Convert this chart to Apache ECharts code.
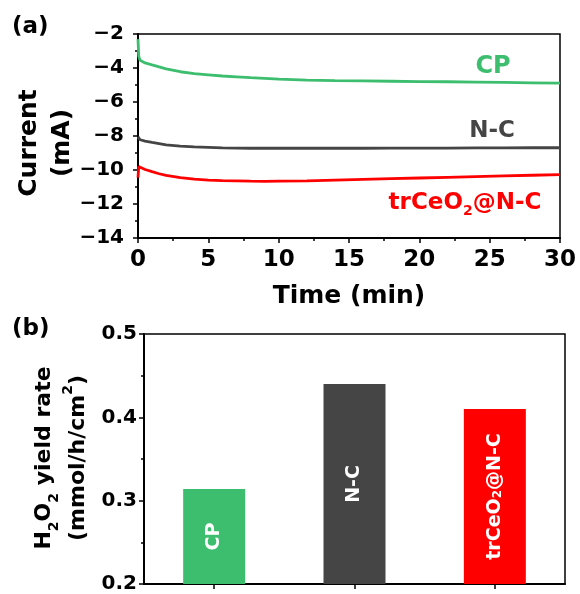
<!DOCTYPE html>
<html>
<head>
<meta charset="utf-8">
<script src="https://cdn.jsdelivr.net/npm/echarts@6/dist/echarts.min.js"></script>
<style>
html,body{margin:0;padding:0;background:#fff;}
#chart{width:580px;height:594px;}
</style>
</head>
<body>
<div id="chart"></div>
<script>
// ---- Data ----
const time = [0, 0.05, 0.15, 0.5, 1, 1.5, 2, 3, 4, 5, 6, 7, 8, 9, 10, 12, 14, 16, 18, 20, 22, 24, 26, 28, 30];
const cpCurrent = [-2.3, -3.3, -3.55, -3.7, -3.82, -3.93, -4.05, -4.22, -4.33, -4.4, -4.47, -4.52, -4.57, -4.61, -4.65, -4.71, -4.74, -4.76, -4.78, -4.8, -4.81, -4.83, -4.85, -4.87, -4.89];
const ncCurrent = [-8.05, -8.15, -8.22, -8.3, -8.38, -8.45, -8.52, -8.6, -8.64, -8.67, -8.7, -8.71, -8.72, -8.72, -8.72, -8.72, -8.72, -8.72, -8.71, -8.71, -8.71, -8.7, -8.7, -8.69, -8.69];
const ceCurrent = [-10.45, -9.8, -9.85, -9.97, -10.1, -10.22, -10.32, -10.45, -10.54, -10.59, -10.62, -10.64, -10.66, -10.67, -10.66, -10.64, -10.59, -10.55, -10.51, -10.47, -10.43, -10.39, -10.35, -10.31, -10.27];
const samples = ['CP', 'N-C', 'trCeO2@N-C'];
const yieldRate = [0.314, 0.44, 0.41];
const timeTicks = [0, 5, 10, 15, 20, 25, 30];
const currentTicks = [-14, -12, -10, -8, -6, -4, -2];
const yieldTicks = [0.2, 0.3, 0.4, 0.5];

const GREEN = '#3cbe6e', GRAY = '#454545', RED = '#ff0000';
const FONT = 'DejaVu Sans';

const pairs = (xs, ys) => xs.map((x, i) => [x, ys[i]]);
const richSub = s => s.replace(/O2/g, 'O{s|2}');

const chart = echarts.init(document.getElementById('chart'), null, {renderer: 'canvas'});

const axisCommon = {
  axisLine: {show: true, onZero: false, lineStyle: {color: '#000', width: 2}},
  axisTick: {show: true, inside: false, length: 5, lineStyle: {color: '#000', width: 1.5}},
  minorTick: {show: true, splitNumber: 2, length: 3, lineStyle: {color: '#000', width: 1.5}},
  splitLine: {show: false}
};

const option = {
  animation: false,
  backgroundColor: '#fff',
  grid: [
    {left: 138, top: 34, width: 422, height: 204, show: true, borderColor: '#000', borderWidth: 1.5, containLabel: false},
    {left: 144, top: 334, width: 421, height: 250, show: true, borderColor: '#000', borderWidth: 1.5, containLabel: false}
  ],
  xAxis: [
    Object.assign({}, axisCommon, {
      gridIndex: 0, type: 'value', min: timeTicks[0], max: timeTicks[timeTicks.length - 1],
      interval: timeTicks[1] - timeTicks[0],
      axisLabel: {color: '#000', fontFamily: FONT, fontWeight: 'bold', fontSize: 23, margin: 11}
    }),
    {
      gridIndex: 1, type: 'category', data: samples, boundaryGap: true,
      axisLine: {show: true, lineStyle: {color: '#000', width: 2}},
      axisTick: {show: true, alignWithLabel: true, length: 5, lineStyle: {color: '#000', width: 1.5}},
      axisLabel: {show: false}
    }
  ],
  yAxis: [
    Object.assign({}, axisCommon, {
      gridIndex: 0, type: 'value', min: currentTicks[0], max: currentTicks[currentTicks.length - 1],
      interval: currentTicks[1] - currentTicks[0],
      axisLabel: {color: '#000', fontFamily: FONT, fontWeight: 'bold', fontSize: 20, margin: 14,
        formatter: v => (v < 0 ? '\u2212' : '') + Math.abs(v)}
    }),
    Object.assign({}, axisCommon, {
      gridIndex: 1, type: 'value', min: yieldTicks[0], max: yieldTicks[yieldTicks.length - 1],
      interval: 0.1,
      axisLabel: {color: '#000', fontFamily: FONT, fontWeight: 'bold', fontSize: 20, margin: 7,
        formatter: v => v.toFixed(1)}
    })
  ],
  series: [
    {type: 'line', xAxisIndex: 0, yAxisIndex: 0, data: pairs(time, cpCurrent), showSymbol: false, smooth: false,
      lineStyle: {color: GREEN, width: 2.8}, itemStyle: {color: GREEN}},
    {type: 'line', xAxisIndex: 0, yAxisIndex: 0, data: pairs(time, ncCurrent), showSymbol: false,
      lineStyle: {color: GRAY, width: 2.8}, itemStyle: {color: GRAY}},
    {type: 'line', xAxisIndex: 0, yAxisIndex: 0, data: pairs(time, ceCurrent), showSymbol: false,
      lineStyle: {color: RED, width: 2.8}, itemStyle: {color: RED}},
    {type: 'bar', xAxisIndex: 1, yAxisIndex: 1, barWidth: 62,
      data: yieldRate.map((v, i) => ({value: v, itemStyle: {color: [GREEN, GRAY, RED][i]}})),
      label: {
        show: true, position: 'inside', rotate: 90, color: '#fff',
        fontFamily: FONT, fontWeight: 'bold', fontSize: 19,
        formatter: p => richSub(p.name),
        rich: {s: {fontFamily: FONT, fontWeight: 'bold', fontSize: 12, color: '#fff', verticalAlign: 'bottom'}}
      }
    }
  ],
  graphic: [
    {type: 'text', left: 12, top: 16, style: {text: '(a)', fill: '#000', font: 'bold 23px "DejaVu Sans"'}},
    {type: 'text', left: 12, top: 318, style: {text: '(b)', fill: '#000', font: 'bold 23px "DejaVu Sans"'}},
    {type: 'text', x: 46, y: 143, rotation: Math.PI / 2,
      style: {text: 'Current\n(mA)', fill: '#000', font: 'bold 25px "DejaVu Sans"', align: 'center', verticalAlign: 'middle', lineHeight: 33}},
    {type: 'text', x: 349, y: 296,
      style: {text: 'Time (min)', fill: '#000', font: 'bold 25px "DejaVu Sans"', align: 'center', verticalAlign: 'middle'}},
    {type: 'text', x: 61, y: 458, rotation: Math.PI / 2,
      style: {
        text: '{m|H}{s|2}{m|O}{s|2}{m| yield rate}\n{m|(mmol/h/cm}{p|2}{m|)}',
        align: 'center', verticalAlign: 'middle',
        rich: {
          m: {fontFamily: FONT, fontWeight: 'bold', fontSize: 22, lineHeight: 34, fill: '#000', color: '#000'},
          s: {fontFamily: FONT, fontWeight: 'bold', fontSize: 14, lineHeight: 34, verticalAlign: 'bottom', fill: '#000', color: '#000'},
          p: {fontFamily: FONT, fontWeight: 'bold', fontSize: 14, lineHeight: 34, verticalAlign: 'top', fill: '#000', color: '#000'}
        }
      }},
    {type: 'text', x: 493, y: 67,
      style: {text: 'CP', fill: GREEN, font: 'bold 24px "DejaVu Sans"', align: 'center', verticalAlign: 'middle'}},
    {type: 'text', x: 492, y: 131,
      style: {text: 'N-C', fill: GRAY, font: 'bold 23px "DejaVu Sans"', align: 'center', verticalAlign: 'middle'}},
    {type: 'text', x: 465, y: 203,
      style: {
        text: richSub('{r|trCe}') ? '{r|trCeO}{t|2}{r|@N-C}' : '',
        align: 'center', verticalAlign: 'middle',
        rich: {
          r: {fontFamily: FONT, fontWeight: 'bold', fontSize: 23, lineHeight: 30, fill: RED, color: RED},
          t: {fontFamily: FONT, fontWeight: 'bold', fontSize: 14, lineHeight: 30, verticalAlign: 'bottom', fill: RED, color: RED}
        }
      }}
  ]
};
chart.setOption(option);
</script>
</body>
</html>
